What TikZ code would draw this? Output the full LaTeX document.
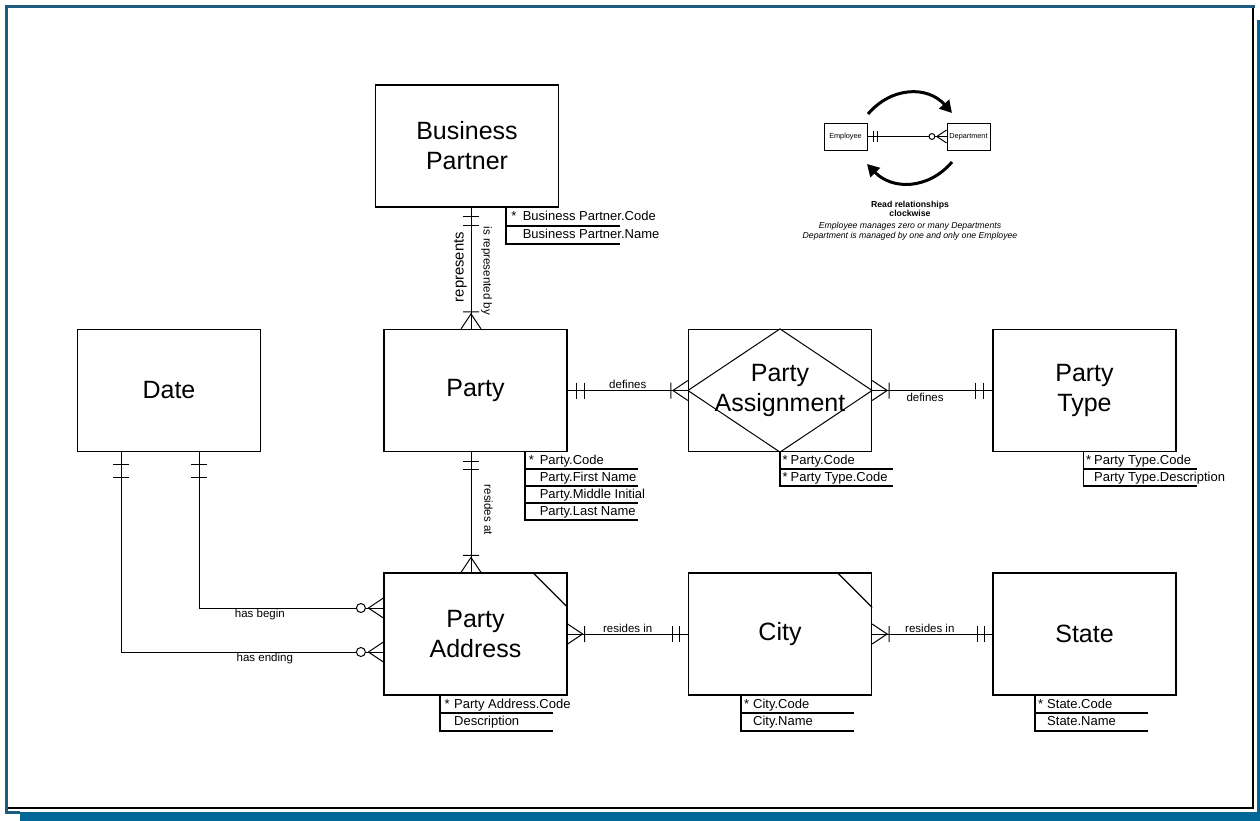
\documentclass[tikz,border=0pt]{standalone}
\usepackage{fontspec}
\setmainfont{Liberation Sans}
\usetikzlibrary{arrows.meta,calc}

\definecolor{framelineblue}{HTML}{1D5C7E}
\definecolor{shadowblue}{HTML}{006796}

\tikzset{
  entity/.style={draw,line width=1.2pt,minimum width=183pt,minimum height=122pt,
    inner sep=0pt,align=center,font=\fontsize{25}{30}\selectfont},
  legbox/.style={draw,line width=0.9pt,minimum width=43pt,minimum height=27pt,
    inner sep=0pt,font=\fontsize{7.3}{8}\selectfont},
  conn/.style={line width=1pt},
  attrline/.style={line width=1.8pt,line cap=square},
  attr/.style={anchor=base west,inner sep=0pt,font=\fontsize{13}{13}\selectfont},
  rel/.style={font=\fontsize{11.5}{12}\selectfont,inner sep=1pt},
  % cardinality marks, drawn with local x pointing away from the entity
  pics/barpair/.style 2 args={code={\draw[conn] (#1,-8) -- (#1,8) (#2,-8) -- (#2,8);}},
  pics/crowbar/.style={code={\draw[conn] (0,-10) -- (15,0) -- (0,10) (17,-8) -- (17,8);}},
  pics/crowring/.style={code={\draw[conn] (0,-10) -- (15,0) -- (0,10);
      \draw[conn,fill=white] (22.5,0) circle (4.5);}},
}

% attribute list under an entity:
% #1 origin, #2 row height, #3 rule length, #4 star offset, #5 name offset, #6 rows (k = key, n = plain)
\newcommand\attrtable[6]{%
  \foreach \kind/\txt [count=\i] in {#6} {
    \draw[attrline] ($(#1)+(0,{(\i-1)*#2})$) -- ++(0,#2) -- ++(#3,0);
    \if k\kind \node[attr] (#1-s\i) at ($(#1)+(#4,{\i*#2-5})$) {*};\fi
    \node[attr] (#1-t\i) at ($(#1)+(#5,{\i*#2-5})$) {\txt};
  }%
}

\begin{document}
\begin{tikzpicture}[x=1pt,y=-1pt]
\useasboundingbox (0,0) rectangle (1260,821);

% page frame with drop shadow
\fill[shadowblue] (20,812) rectangle (1260,821);
\fill[shadowblue] (1256.5,20) rectangle (1260,821);
\draw[framelineblue,line width=2.5pt] (20,812.3) -- (6.5,812.3) -- (6.5,6.5) -- (1255,6.5);
\draw[line width=1.3pt] (8,808) -- (1253,808) -- (1253,8);

% entities
\node[entity] (bp)    at (467,146)    {Business\\Partner};
\node[entity] (date)  at (169,390.5)  {Date};
\node[entity] (pty)   at (475.5,390.5) {Party};
\node[entity] (pa)    at (780,390.5)  {Party\\Assignment};
\node[entity] (pt)    at (1084.5,390.5) {Party\\Type};
\node[entity] (pad)   at (475.5,634)  {Party\\Address};
\node[entity] (city)  at (780,634)    {City};
\node[entity] (state) at (1084.5,634) {State};

% associative entity diamond
\draw[line width=1pt] (pa.north) -- (pa.east) -- (pa.south) -- (pa.west) -- cycle;
% dependent entity corners
\draw[line width=1.2pt] ([xshift=-35pt]pad.north east) -- ([yshift=-35pt]pad.north east);
\draw[line width=1.2pt] ([xshift=-35pt]city.north east) -- ([yshift=-35pt]city.north east);

% Business Partner -- Party
\draw[conn] ([xshift=4pt]bp.south) coordinate (bpS) -- (bpS |- pty.north) coordinate (ptyN);
\path (bpS) -- (ptyN)
  node[pos=0.49,rotate=90,anchor=south,inner sep=4pt,font=\fontsize{14.8}{15}\selectfont] (lrep) {represents}
  node[pos=0.52,rotate=-90,anchor=south,rel,inner sep=10pt] (lisrep) {is represented by};
\pic[rotate=-90] at (bpS) {barpair={9}{18}};
\pic[rotate=90] at (ptyN) {crowbar};

% Party -- Party Assignment
\draw[conn] (pty.east) -- node[rel,above] (ldef1) {defines} (pa.west);
\pic at (pty.east) {barpair={9}{17}};
\pic[rotate=180] at (pa.west) {crowbar};

% Party Assignment -- Party Type
\draw[conn] (pa.east) -- node[rel,below,pos=0.44,inner sep=2pt] (ldef2) {defines} (pt.west);
\pic at (pa.east) {crowbar};
\pic[rotate=180] at (pt.west) {barpair={9}{17}};

% Party -- Party Address
\draw[conn] ([xshift=-4.5pt]pty.south) coordinate (ptyS) -- (ptyS |- pad.north) coordinate (padN);
\path (ptyS) -- (padN) node[pos=0.48,rotate=-90,anchor=south,rel,inner sep=13pt] (lresat) {resides at};
\pic[rotate=-90] at (ptyS) {barpair={9}{17}};
\pic[rotate=90] at (padN) {crowbar};

% Party Address -- City -- State
\draw[conn] (pad.east) -- node[rel,above,inner sep=0.5pt] (lres1) {resides in} (city.west);
\pic at (pad.east) {crowbar};
\pic[rotate=180] at (city.west) {barpair={8}{15}};
\draw[conn] (city.east) -- node[rel,above,inner sep=0.5pt,pos=0.48] (lres2) {resides in} (state.west);
\pic at (city.east) {crowbar};
\pic[rotate=180] at (state.west) {barpair={8}{15}};

% Date -- Party Address
\draw[conn] ([xshift=30pt]date.south) coordinate (dA) |- node[rel,below,pos=0.665] (lbeg) {has begin}
  ([yshift=26pt]pad.west) coordinate (padB);
\draw[conn] ([xshift=-48pt]date.south) coordinate (dB) |- node[rel,below,pos=0.774] (lend) {has ending}
  ([yshift=-18pt]pad.west) coordinate (padE);
\pic[rotate=-90] at (dA) {barpair={12}{25}};
\pic[rotate=-90] at (dB) {barpair={12}{25}};
\pic[rotate=180] at (padB) {crowring};
\pic[rotate=180] at (padE) {crowring};

% attribute lists
\coordinate (bpK)    at ([xshift=-53pt]bp.south east);
\coordinate (ptyK)   at ([xshift=-43pt]pty.south east);
\coordinate (paK)    at (pa.south);
\coordinate (ptK)    at ([xshift=-1pt]pt.south);
\coordinate (padK)   at ([xshift=-35.5pt]pad.south);
\coordinate (cityK)  at ([xshift=-39pt]city.south);
\coordinate (stateK) at ([xshift=-49.5pt]state.south);
\attrtable{bpK}{18}{114}{5}{16.5}{k/Business Partner.Code, n/Business Partner.Name}
\attrtable{ptyK}{17}{113}{4}{15}{k/Party.Code, n/Party.First Name, n/Party.Middle Initial, n/Party.Last Name}
\attrtable{paK}{17}{113}{2.5}{10.5}{k/Party.Code, k/Party Type.Code}
\attrtable{ptK}{17}{113}{2.5}{10.5}{k/Party Type.Code, n/Party Type.Description}
\attrtable{padK}{17.5}{113}{4.5}{14}{k/Party Address.Code, n/Description}
\attrtable{cityK}{17.5}{113}{3}{12}{k/City.Code, n/City.Name}
\attrtable{stateK}{17.5}{113}{3}{12}{k/State.Code, n/State.Name}

% legend
\node[legbox] (emp) at (845.5,136.5) {Employee};
\node[legbox] (dep) at (968.5,136.5) {Department};
\draw[conn] (emp.east) -- (dep.west);
\pic[scale=0.65] at (emp.east) {barpair={9.2}{15.4}};
\pic[rotate=180,scale=0.65] at (dep.west) {crowring};
\draw[line width=3pt,-{Triangle[length=12pt,width=13pt]}]
  (868,114) .. controls (892,86) and (928,86) .. (952,113);
\draw[line width=3pt,-{Triangle[length=12pt,width=13pt]}]
  (952,162) .. controls (928,190) and (892,190) .. (867,164);
\node[align=center,inner sep=0pt,font=\fontsize{8.7}{8.8}\selectfont\bfseries] (legt) at (910,208.5)
  {Read relationships\\clockwise};
\node[align=center,inner sep=0pt,font=\fontsize{8.7}{9.7}\selectfont\itshape] (legi) at (910,231)
  {Employee manages zero or many Departments\\Department is managed by one and only one Employee};

\end{tikzpicture}
\end{document}
